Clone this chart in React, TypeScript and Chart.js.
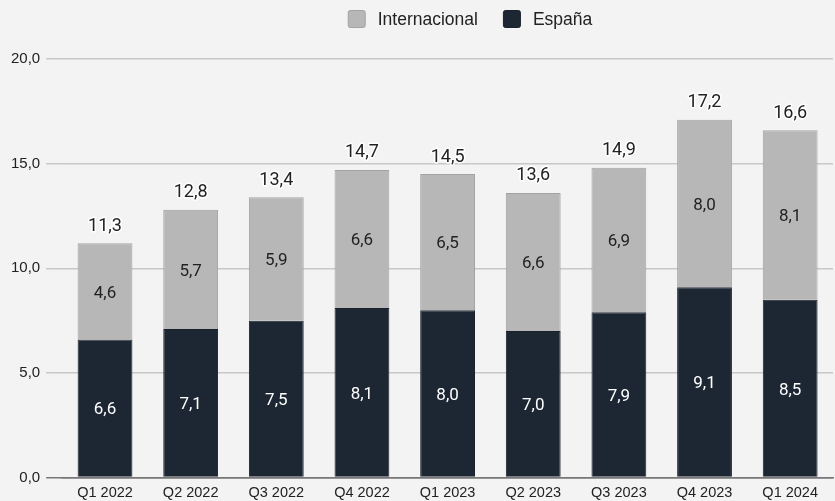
import React, { useEffect, useRef } from "react";
import { Chart, registerables } from "chart.js";

Chart.register(...registerables);

const categories = ["Q1 2022", "Q2 2022", "Q3 2022", "Q4 2022", "Q1 2023", "Q2 2023", "Q3 2023", "Q4 2023", "Q1 2024"];
const espana = [6.6, 7.1, 7.5, 8.1, 8.0, 7.0, 7.9, 9.1, 8.5];
const internacional = [4.6, 5.7, 5.9, 6.6, 6.5, 6.6, 6.9, 8.0, 8.1];
const totals = [11.3, 12.8, 13.4, 14.7, 14.5, 13.6, 14.9, 17.2, 16.6];

const fmt = (v: number) => v.toFixed(1).replace(".", ",");

const bgPlugin = {
  id: "bg",
  beforeDraw(chart: any) {
    const { ctx, width, height } = chart;
    ctx.save();
    ctx.fillStyle = "#f3f3f3";
    ctx.fillRect(0, 0, width, height);
    ctx.restore();
  },
};

const legendPlugin = {
  id: "customLegend",
  afterDraw(chart: any) {
    const { ctx } = chart;
    const items = [...chart.data.datasets].reverse();
    ctx.save();
    ctx.font = "17.5px 'Liberation Sans'";
    ctx.textBaseline = "middle";
    ctx.textAlign = "left";
    const box = 18, gapText = 12, gapItem = 25;
    const widths = items.map((d: any) => ctx.measureText(d.label).width);
    const total = items.reduce((s: number, _d: any, i: number) => s + box + gapText + widths[i], 0) + gapItem * (items.length - 1);
    let x = 470 - total / 2;
    const yMid = 19;
    items.forEach((d: any, i: number) => {
      ctx.fillStyle = d.backgroundColor;
      ctx.strokeStyle = d.borderColor;
      ctx.lineWidth = 1;
      ctx.beginPath();
      (ctx as any).roundRect(x + 0.5, yMid - box / 2 + 0.5, box - 1, box - 1, 2);
      ctx.fill();
      ctx.stroke();
      ctx.fillStyle = "#222";
      ctx.fillText(d.label, x + box + gapText, yMid + 1);
      x += box + gapText + widths[i] + gapItem;
    });
    ctx.restore();
  },
};

const labelPlugin = {
  id: "labels",
  afterDatasetsDraw(chart: any) {
    const { ctx } = chart;
    ctx.save();
    ctx.textAlign = "center";
    ctx.textBaseline = "middle";
    ctx.font = "17px Roboto";
    chart.data.datasets.forEach((ds: any, di: number) => {
      const meta = chart.getDatasetMeta(di);
      meta.data.forEach((el: any, i: number) => {
        const y = (el.y + el.base) / 2;
        ctx.fillStyle = di === 0 ? "#ffffff" : "#222222";
        ctx.fillText(fmt(ds.data[i]), el.x, y + 2);
      });
    });
    ctx.font = "18px Roboto";
    const top = chart.getDatasetMeta(chart.data.datasets.length - 1);
    top.data.forEach((el: any, i: number) => {
      const y = el.y - 17;
      ctx.lineWidth = 3;
      ctx.strokeStyle = "#ffffff";
      ctx.lineJoin = "round";
      ctx.strokeText(fmt(totals[i]), el.x, y);
      ctx.fillStyle = "#222222";
      ctx.fillText(fmt(totals[i]), el.x, y);
    });
    ctx.restore();
  },
};

export default function App() {
  const ref = useRef<HTMLCanvasElement | null>(null);
  useEffect(() => {
    if (!ref.current) return;
    const chart = new Chart(ref.current, {
      type: "bar",
      data: {
        labels: categories,
        datasets: [
          {
            label: "España",
            data: espana,
            backgroundColor: "#1d2633",
            borderColor: "#1a212b",
            borderWidth: 1,
            barPercentage: 0.64,
            categoryPercentage: 1,
          },
          {
            label: "Internacional",
            data: internacional,
            backgroundColor: "#b7b7b7",
            borderColor: "#a3a3a3",
            borderWidth: 1,
            barPercentage: 0.64,
            categoryPercentage: 1,
          },
        ],
      },
      options: {
        responsive: false,
        animation: false,
        layout: { padding: { left: 5, right: 2, top: 59, bottom: -8 } },
        plugins: {
          legend: { display: false },
          tooltip: { enabled: false },
        },
        scales: {
          x: {
            stacked: true,
            grid: { display: false, drawTicks: false },
            border: { display: true, color: "#777", width: 1.5 },
            ticks: { color: "#222", font: { family: "Liberation Sans", size: 14.5 }, padding: 7 },
          },
          y: {
            stacked: true,
            min: 0,
            max: 20,
            ticks: {
              stepSize: 5,
              color: "#222",
              padding: 6,
              font: { family: "Liberation Sans", size: 15 },
              callback: (v: any) => fmt(Number(v)),
            },
            grid: {
              tickLength: 16,
              lineWidth: 1.5,
              color: (c: any) => (c.tick && c.tick.value === 0 ? "#777" : "#c8c8c8"),
            },
            border: { display: false },
          },
        },
      },
      plugins: [bgPlugin, labelPlugin, legendPlugin],
    });
    return () => chart.destroy();
  }, []);
  return (
    <div style={{ position: "absolute", left: 0, top: 0, width: 835, height: 501 }}>
      <canvas ref={ref} width={835} height={501} />
    </div>
  );
}
